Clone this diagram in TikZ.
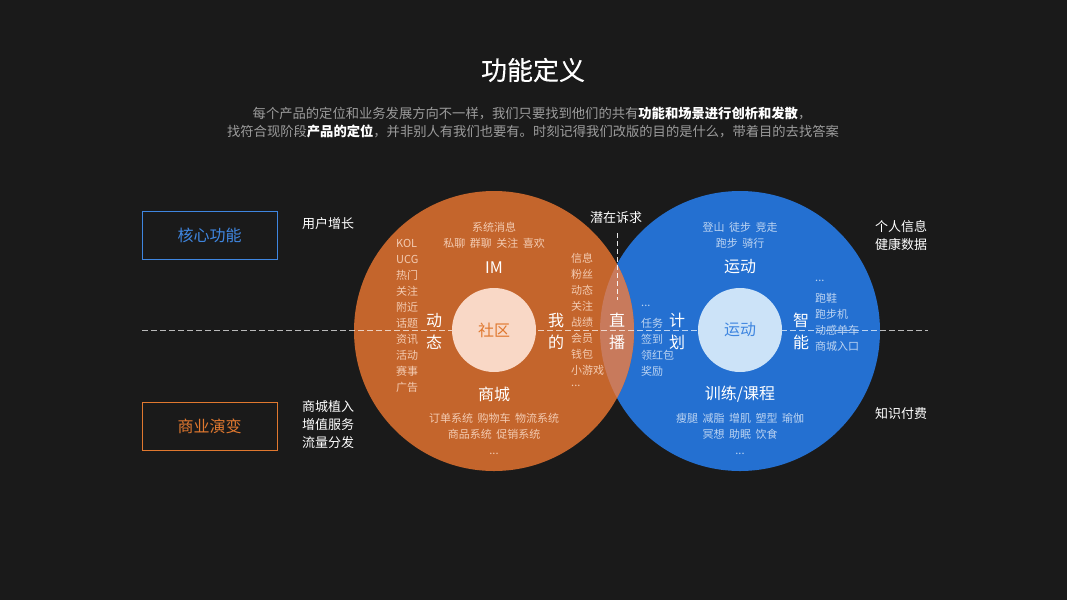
\documentclass[tikz,border=0pt]{standalone}
\usepackage{fontspec}
\setmainfont{Noto Sans CJK SC}
\newfontfamily\headfont[FakeBold=0.25]{Noto Sans CJK SC}
\usepackage{xcolor}
\usetikzlibrary{positioning}

\definecolor{bgdark}{HTML}{1A1A1A}
\definecolor{ringorange}{HTML}{C4652C}
\definecolor{ringblue}{HTML}{2470D1}
\definecolor{overlapc}{HTML}{C87A5C}
\definecolor{coreorange}{HTML}{F9D8C6}
\definecolor{coreblue}{HTML}{CCE3F8}
\definecolor{softorange}{HTML}{F3CBB2}
\definecolor{softblue}{HTML}{BCD4F2}
\definecolor{subgray}{HTML}{9C9C9C}
\definecolor{tagblue}{HTML}{3F86E0}
\definecolor{tagorange}{HTML}{E0782F}

\newcommand\wgap{\hspace{4.5pt}}

\begin{document}
\begin{tikzpicture}[
  x=1pt, y=-1pt,
  small/.style={font=\fontsize{11}{15.7}\selectfont, inner sep=0pt},
  big/.style={font=\fontsize{16}{22}\selectfont, text=white, inner sep=0pt, align=center},
  side/.style={font=\fontsize{13}{18}\selectfont, text=white, inner sep=0pt, align=left},
  tagbox/.style={draw, line width=1pt, minimum width=135pt, minimum height=48pt, font=\fontsize{16}{20}\selectfont},
  guide/.style={draw=white, draw opacity=0.7, line width=1pt, dash pattern=on 6pt off 3pt}
]
  % background and page size
  \fill[bgdark] (0,0) rectangle (1067,600);
  \useasboundingbox (0,0) rectangle (1067,600);

  % title and intro
  \node[font=\headfont\fontsize{26}{30}\selectfont, text=white] (title) at (533,70) {功能定义};
  \node[font=\fontsize{13.3}{18}\selectfont, text=subgray, inner sep=0pt] (intro1) at (532,113)
    {每个产品的定位和业务发展方向不一样，我们只要找到他们的共有\textcolor{white}{\bfseries 功能和场景进行创析和发散}，};
  \node[font=\fontsize{13.3}{18}\selectfont, text=subgray, inner sep=0pt] (intro2) at (533,131)
    {找符合现阶段\textcolor{white}{\bfseries 产品的定位}，并非别人有我们也要有。时刻记得我们改版的目的是什么，带着目的去找答案};

  % the two rings
  \fill[ringblue] (740,331) circle (140);
  \fill[ringorange] (494,331) circle (140);
  \begin{scope}
    \clip (494,331) circle (140);
    \fill[overlapc] (740,331) circle (140);
  \end{scope}

  % guide lines
  \coordinate (gl) at (142,330);
  \coordinate (gr) at (928,330);
  \draw[guide] (gl) -- (gr);
  \coordinate (vt) at (617,233);
  \coordinate (vb) at (617,300);
  \draw[guide, draw opacity=0.9, dash pattern=on 5pt off 3pt] (vt) -- (vb);

  % inner cores
  \node[circle, fill=coreorange, minimum size=84pt, inner sep=0pt,
        text=tagorange, font=\fontsize{16}{20}\selectfont] (community) at (494,330) {社区};
  \node[circle, fill=coreblue, minimum size=84pt, inner sep=0pt,
        text=tagblue, font=\fontsize{16}{20}\selectfont] (sport) at (740,330) {运动};

  % left tags
  \node[tagbox, draw=tagblue, text=tagblue] (core) at (209.5,235) {核心功能};
  \node[tagbox, draw=tagorange, text=tagorange] (biz) at (209.5,426) {商业演变};
  \node[side, anchor=west] (growth) at (302,224) {用户增长};
  \node[side, anchor=north west] (mall) at (302,400) {商城植入\\增值服务\\流量分发};
  \node[side, anchor=west] (need) at (590,218) {潜在诉求};
  \node[side, anchor=north west] (personal) at (875,220) {个人信息\\健康数据};
  \node[side, anchor=west] (paid) at (875,414) {知识付费};

  % community ring
  \node[small, text=softorange, align=center] (imtop) at (494,235.5)
    {系统消息\\私聊\wgap 群聊\wgap 关注\wgap 喜欢};
  \node[big] (im) at (494,268) {IM};
  \node[big] (feed) at (434,331) {动\\态};
  \node[big] (mine) at (556,331) {我\\的};
  \node[big] (live) at (617,331) {直\\播};
  \node[big] (shop) at (494,394) {商城};
  \node[small, text=softorange, align=center] (shoplist) at (494,434)
    {订单系统\wgap 购物车\wgap 物流系统\\商品系统\wgap 促销系统\\...};
  \foreach \t [count=\i] in {KOL,UCG,热门,关注,附近,话题,资讯,活动,赛事,广告}
    \node[small, text=softorange, anchor=west] (feed\i) at (396,227+16*\i) {\t};
  \foreach \t [count=\i] in {信息,粉丝,动态,关注,战绩,会员,钱包,小游戏}
    \node[small, text=softorange, anchor=west] (mine\i) at (571,242+16*\i) {\t};
  \node[small, text=softorange, anchor=west] (minemore) at (571,386) {...};

  % sport ring
  \node[small, text=softblue, align=center] (sporttop) at (740,235.5)
    {登山\wgap 徒步\wgap 竞走\\跑步\wgap 骑行};
  \node[big] (run) at (740,267) {运动};
  \node[big] (plan) at (677,331) {计\\划};
  \node[big] (smart) at (801,331) {智\\能};
  \node[big] (course) at (740,394) {训练/课程};
  \node[small, text=softblue, align=center] (courselist) at (740,434)
    {瘦腿\wgap 减脂\wgap 增肌\wgap 塑型\wgap 瑜伽\\冥想\wgap 助眠\wgap 饮食\\...};
  \node[small, text=softblue, anchor=west] (planmore) at (641,306) {...};
  \foreach \t [count=\i] in {任务,签到,领红包,奖励}
    \node[small, text=softblue, anchor=west] (plan\i) at (641,307+16*\i) {\t};
  \node[small, text=softblue, anchor=west] (smartmore) at (815,281) {...};
  \foreach \t [count=\i] in {跑鞋,跑步机,动感单车,商城入口}
    \node[small, text=softblue, anchor=west] (smart\i) at (815,282+16*\i) {\t};
\end{tikzpicture}
\end{document}
